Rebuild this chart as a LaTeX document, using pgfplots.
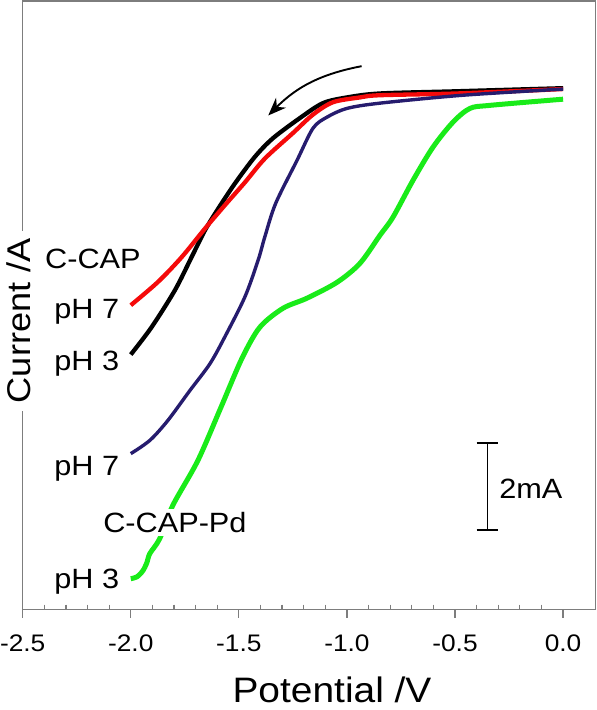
\documentclass[border=0pt]{standalone}
\usepackage{fontspec}
\setmainfont{Liberation Sans}[FakeStretch=1.1]
\usepackage{pgfplots}
\pgfplotsset{compat=1.18}
\usetikzlibrary{arrows.meta}
\definecolor{axgray}{RGB}{125,125,125}
\definecolor{cvnavy}{RGB}{38,28,110}
\definecolor{cvgreen}{RGB}{25,235,25}
\definecolor{cvred}{RGB}{245,10,10}
\newcommand\anno{\fontsize{28}{32}\selectfont}
\begin{document}
\begin{tikzpicture}
\begin{axis}[
  at={(0,0)}, anchor=south west,
  width=572.8bp, height=608.5bp, scale only axis,
  xmin=-2.5, xmax=0.15, ymin=-0.02, ymax=13.8,
  axis line style={axgray, line width=1.2bp},
  xtick={-2.5,-2,-1.5,-1,-0.5,0},
  xticklabels={-2.5,-2.0,-1.5,-1.0,-0.5,0.0},
  minor x tick num=4,
  xtick pos=left,
  ytick=\empty,
  tick align=outside,
  major tick length=8bp,
  minor tick length=-5bp,
  every tick/.style={axgray, line width=1.2bp},
  xticklabel style={font=\fontsize{24}{28}\selectfont, anchor=base, yshift=-33.5bp},
  xlabel={Potential /V},
  xlabel style={font=\fontsize{35.5}{40}\selectfont, at={(axis description cs:0.54,0)}, anchor=base, inner sep=0pt, yshift=-93bp},
  ylabel={Current /A},
  ylabel style={font=\fontsize{33}{38}\selectfont, at={(axis description cs:-0.0065,0.4745)}, anchor=center, fill=white, inner xsep=7.5bp, inner ysep=1bp},
  clip=false,
]
\addplot[black, line width=4.3bp, smooth] coordinates {
(-2.000,5.77) (-1.904,6.39) (-1.796,7.23) (-1.719,7.98) (-1.657,8.59) (-1.596,9.08)
(-1.519,9.65) (-1.426,10.26) (-1.343,10.68) (-1.218,11.14) (-1.111,11.48) (-1.000,11.61)
(-0.847,11.70) (-0.491,11.75) (0.000,11.82)};
\addplot[cvred, line width=4.3bp, smooth] coordinates {
(-2.000,6.89) (-1.874,7.42) (-1.765,7.98) (-1.657,8.63) (-1.565,9.16) (-1.472,9.68)
(-1.380,10.22) (-1.250,10.80) (-1.157,11.22) (-1.065,11.50) (-0.940,11.61) (-0.847,11.66)
(-0.491,11.70) (0.000,11.80)};
\addplot[cvnavy, line width=3.4bp, smooth] coordinates {
(-2.000,3.52) (-1.912,3.82) (-1.829,4.27) (-1.727,4.95) (-1.634,5.56) (-1.565,6.17)
(-1.472,7.08) (-1.411,7.91) (-1.380,8.44) (-1.330,9.20) (-1.231,10.18) (-1.157,10.91)
(-1.093,11.16) (-1.000,11.36) (-0.847,11.48) (-0.463,11.66) (0.000,11.80)};
\addplot[cvgreen, line width=5bp, smooth] coordinates {
(-2.000,0.68) (-1.972,0.72) (-1.944,0.86) (-1.925,1.05) (-1.912,1.25) (-1.866,1.59)
(-1.806,2.34) (-1.690,3.36) (-1.583,4.57) (-1.486,5.68) (-1.403,6.39) (-1.296,6.82)
(-1.185,7.05) (-1.046,7.41) (-0.940,7.84) (-0.847,8.48) (-0.787,8.89) (-0.694,9.73)
(-0.602,10.48) (-0.509,11.05) (-0.431,11.36) (-0.338,11.43) (0.000,11.57)};
% annotations
\node[anchor=base west, inner sep=0pt, font=\anno] at (axis cs:-2.397,7.72) {C-CAP};
\node[anchor=base east, inner sep=0pt, font=\anno] at (axis cs:-2.053,6.584) {pH 7};
\node[anchor=base east, inner sep=0pt, font=\anno] at (axis cs:-2.053,5.409) {pH 3};
\node[anchor=base east, inner sep=0pt, font=\anno] at (axis cs:-2.053,3.023) {pH 7};
\node[anchor=base west, fill=white, inner sep=3bp, xshift=-3bp, font=\anno] at (axis cs:-2.128,1.734) {C-CAP-Pd};
\node[anchor=base east, inner sep=0pt, font=\anno] at (axis cs:-2.053,0.448) {pH 3};
% scale bar
\draw[black, line width=1.8bp] (axis cs:-0.350,1.789) -- (axis cs:-0.350,3.757);
\draw[black, line width=1.8bp] (axis cs:-0.400,1.789) -- (axis cs:-0.300,1.789);
\draw[black, line width=1.8bp] (axis cs:-0.400,3.757) -- (axis cs:-0.300,3.757);
\node[anchor=base west, inner sep=0pt, font=\anno] at (axis cs:-0.296,2.493) {2mA};
% arrow
\draw[black, line width=1.9bp, -{Stealth[length=18bp,width=14bp]}] (axis cs:-0.932,12.32) to[out=191,in=45] (axis cs:-1.364,11.20);
\end{axis}
\pgfresetboundingbox
\useasboundingbox (-22.7bp,-100.5bp) rectangle (574.3bp,609.5bp);
\end{tikzpicture}
\end{document}
